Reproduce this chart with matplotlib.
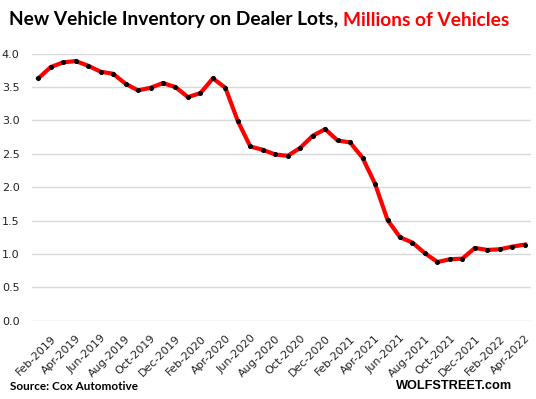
import matplotlib
matplotlib.use("Agg")
import matplotlib.pyplot as plt

months = ["Jan-2019", "Feb-2019", "Mar-2019", "Apr-2019", "May-2019", "Jun-2019", "Jul-2019", "Aug-2019",
          "Sep-2019", "Oct-2019", "Nov-2019", "Dec-2019", "Jan-2020", "Feb-2020", "Mar-2020", "Apr-2020",
          "May-2020", "Jun-2020", "Jul-2020", "Aug-2020", "Sep-2020", "Oct-2020", "Nov-2020", "Dec-2020",
          "Jan-2021", "Feb-2021", "Mar-2021", "Apr-2021", "May-2021", "Jun-2021", "Jul-2021", "Aug-2021",
          "Sep-2021", "Oct-2021", "Nov-2021", "Dec-2021", "Jan-2022", "Feb-2022", "Mar-2022", "Apr-2022"]
inventory = [3.63, 3.80, 3.87, 3.89, 3.82, 3.73, 3.70, 3.55, 3.45, 3.49,
             3.56, 3.50, 3.35, 3.41, 3.63, 3.49, 2.99, 2.61, 2.56, 2.49,
             2.47, 2.59, 2.77, 2.87, 2.70, 2.67, 2.44, 2.05, 1.51, 1.25,
             1.17, 1.01, 0.88, 0.92, 0.93, 1.09, 1.06, 1.07, 1.11, 1.14]
y_ticks = [0.0, 0.5, 1.0, 1.5, 2.0, 2.5, 3.0, 3.5, 4.0]

W, H = 536, 399
fig = plt.figure(figsize=(W / 100, H / 100), dpi=100)
ax = fig.add_axes([32 / W, 1 - 320.7 / H, (531 - 32) / W, (320.7 - 53.7) / H])

x = list(range(len(months)))
ax.plot(x, inventory, color="#ff0000", linewidth=3.0, solid_joinstyle="round", zorder=3)
ax.plot(x, inventory, linestyle="none", marker="o", markersize=2.6, color="black", zorder=4)

ax.set_xlim(-0.5, len(months) - 0.5)
ax.set_ylim(0, 4.0)
ax.set_yticks(y_ticks)
ax.set_yticklabels([f"{v:.1f}" for v in y_ticks], fontsize=8, color="#222222")
ax.yaxis.grid(True, color="#d9d9d9", linewidth=1.0)
ax.set_axisbelow(True)
tick_idx = list(range(1, len(months), 2))
ax.set_xticks(tick_idx)
ax.set_xticklabels([months[i] for i in tick_idx], rotation=45, ha="right", va="top",
                   rotation_mode="anchor", fontsize=8, color="#222222")
ax.tick_params(axis="both", length=0)
ax.tick_params(axis="x", pad=9)
ax.tick_params(axis="y", pad=9)
for s in ax.spines.values():
    s.set_visible(False)

# title in two colours
t1 = fig.text(9 / W, 1 - 20 / H, "New Vehicle Inventory on Dealer Lots, ", fontsize=13.8,
              fontweight="bold", family="Lato", color="black", va="center", ha="left")
fig.canvas.draw()
bb = t1.get_window_extent()
fig.text(bb.x1 / W, 1 - 20 / H, "Millions of Vehicles", fontsize=13.8,
         fontweight="bold", family="Lato", color="#ff0000", va="center", ha="left")

fig.text(10 / W, 1 - 387 / H, "Source: Cox Automotive", fontsize=8.5, fontweight="bold",
         family="Lato", color="black", va="center", ha="left")
fig.text(512 / W, 1 - 386 / H, "WOLFSTREET.com", fontsize=9.2, fontweight="bold",
         family="Liberation Sans", color="black", va="center", ha="right")

fig.savefig("out.png", dpi=100)
